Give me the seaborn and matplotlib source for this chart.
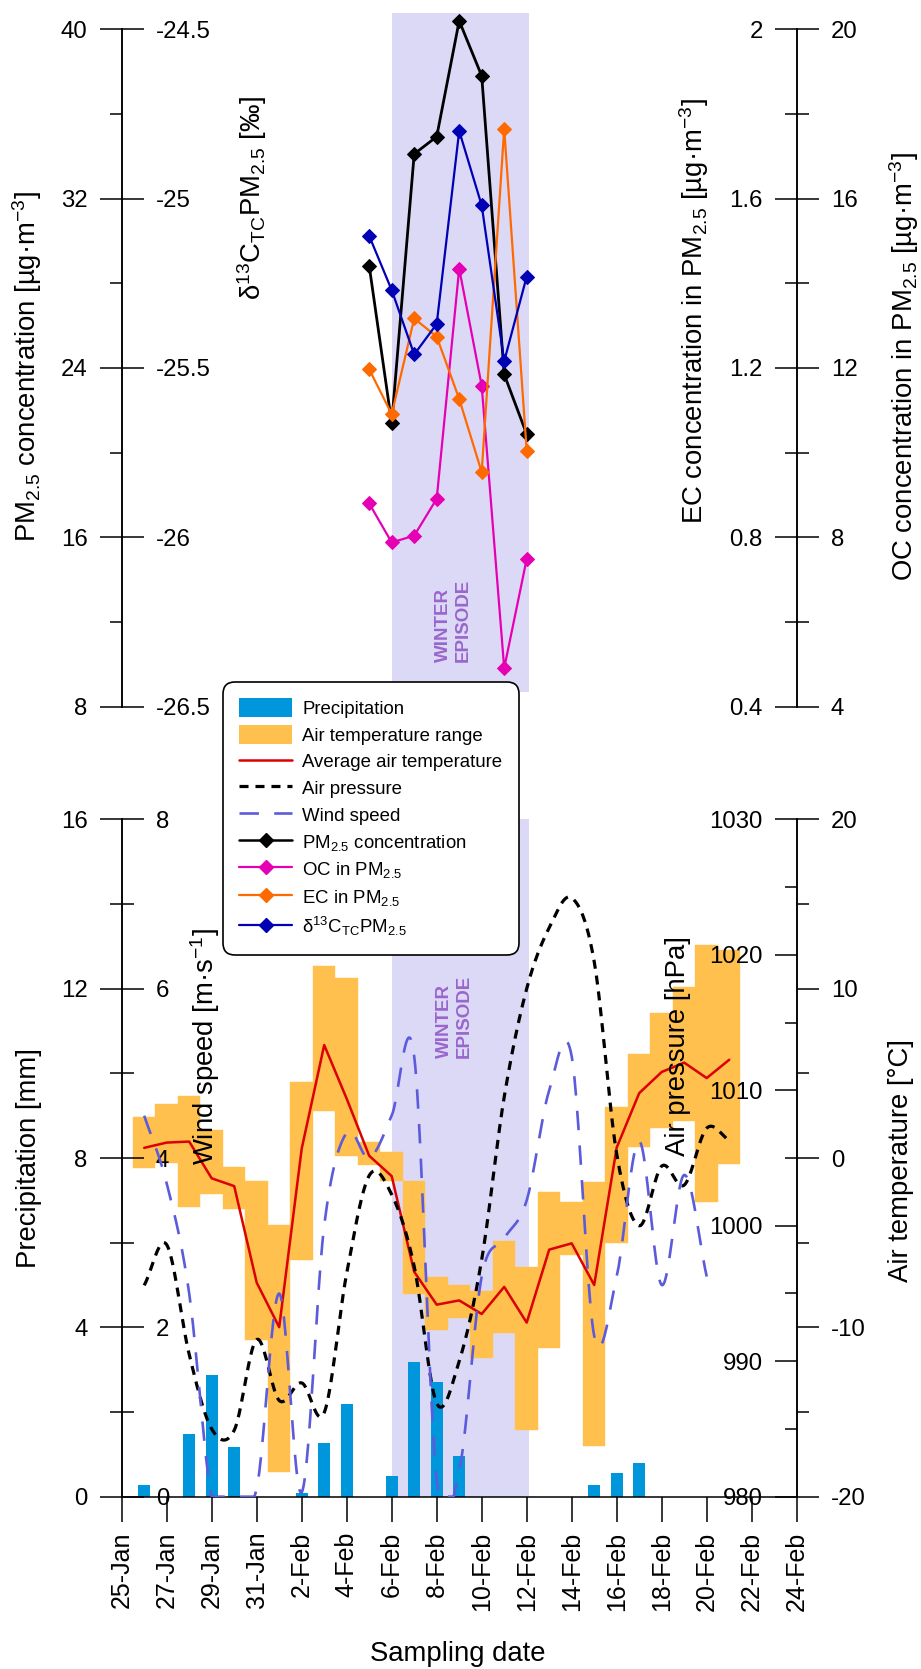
import numpy as np
import pandas as pd
import matplotlib
matplotlib.use('Agg')
import matplotlib.pyplot as plt
import matplotlib.dates as mdates
from matplotlib.patches import Patch
from matplotlib.lines import Line2D
import seaborn as sns

sns.set_theme(style='white')
plt.rcParams['font.family'] = ['Liberation Sans', 'DejaVu Sans']
plt.rcParams['mathtext.fontset'] = 'custom'
plt.rcParams['mathtext.rm'] = 'Liberation Sans'
plt.rcParams['mathtext.it'] = 'Liberation Sans:italic'
plt.rcParams['mathtext.bf'] = 'Liberation Sans:bold'
plt.rcParams['axes.unicode_minus'] = False
plt.rcParams['lines.scale_dashes'] = False
for k in ['axes.edgecolor', 'text.color', 'xtick.color', 'ytick.color', 'axes.labelcolor']:
    plt.rcParams[k] = 'black'

# ---------------- data ----------------
met_dates = pd.date_range('2019-01-26', '2019-02-21', freq='D')
precip = [0.28, 0, 1.48, 2.88, 1.18, 0, 0, 0.08, 1.28, 2.18, 0, 0.49, 3.18, 2.70,
          0.97, 0, 0, 0, 0, 0, 0.28, 0.57, 0.79, 0, 0, 0, 0]
t_max = [2.41, 3.19, 3.67, 1.67, -0.52, -1.35, -3.94, 4.5, 11.31, 10.61, 0.93, 0.34,
         -1.35, -7.04, -7.52, -7.88, -4.93, -6.41, -2.02, -2.58, -1.43, 3.03, 6.17,
         8.58, 10.1, 12.6, 12.3]
t_min = [-0.61, -0.3, -2.88, -2.13, -3.03, -10.73, -18.53, -6.05, 2.77, 0.13, -0.44,
         -1.35, -8.03, -10.14, -9.42, -11.83, -10.31, -16.04, -11.19, -5.72, -17.02,
         -5.04, 0.67, 1.75, 2.19, -2.58, -0.34]
t_avg = [0.60, 0.91, 0.97, -1.2, -1.66, -7.36, -9.99, 0.55, 6.67, 3.5, 0.13, -1.07,
         -6.72, -8.66, -8.41, -9.21, -7.61, -9.72, -5.41, -5.04, -7.5, 0.62, 3.83,
         5.08, 5.63, 4.72, 5.8]
pressure = [995.6, 998.6, 990.5, 985.0, 984.9, 991.6, 987.1, 988.4, 986.2, 996.5,
            1003.7, 1002.3, 997.0, 986.9, 990.0, 997.5, 1009.5, 1017.5, 1022.0,
            1024.2, 1019.5, 1005.3, 1000.0, 1004.4, 1003.0, 1007.2, 1006.3]
wind_dates = pd.date_range('2019-01-26', '2019-02-20', freq='D')
wind = [4.5, 3.7, 2.4, 0, 0, 0.1, 2.4, 0.05, 3.2, 4.3, 4.0, 4.5, 5.2, 0.2, 0.3,
        2.6, 3.05, 3.5, 4.8, 5.2, 1.9, 2.6, 4.2, 2.5, 3.8, 2.6]

top_dates = pd.date_range('2019-02-05', '2019-02-12', freq='D')
pm25 = [28.83, 21.39, 34.11, 34.93, 40.4, 37.8, 23.7, 20.87]
oc = [8.80, 7.88, 8.04, 8.91, 14.35, 11.58, 4.91, 7.49]
ec = [1.197, 1.091, 1.317, 1.274, 1.127, 0.954, 1.765, 1.004]
d13c = [-25.11, -25.27, -25.46, -25.37, -24.80, -25.02, -25.48, -25.23]

episode = (pd.Timestamp('2019-02-06'), pd.Timestamp('2019-02-12'))
x_range = (pd.Timestamp('2019-01-25'), pd.Timestamp('2019-02-24'))
x_ticks = pd.date_range('2019-01-25', '2019-02-24', freq='2D')

pm_ticks = [8, 16, 24, 32, 40]
d13c_ticks = [-26.5, -26, -25.5, -25, -24.5]
d13c_labels = ['-26.5', '-26', '-25.5', '-25', '-24.5']
ec_ticks = [0.4, 0.8, 1.2, 1.6, 2.0]
ec_labels = ['0.4', '0.8', '1.2', '1.6', '2']
oc_ticks = [4, 8, 12, 16, 20]
pr_ticks = [0, 4, 8, 12, 16]
wind_ticks = [0, 2, 4, 6, 8]
pres_ticks = [980, 990, 1000, 1010, 1020, 1030]
temp_ticks = [-20, -10, 0, 10, 20]

legend_labels = ['Precipitation', 'Air temperature range', 'Average air temperature',
                 'Air pressure', 'Wind speed', 'PM$_{2.5}$ concentration',
                 'OC in PM$_{2.5}$', 'EC in PM$_{2.5}$',
                 'δ$^{13}$C$_{\\mathrm{TC}}$PM$_{2.5}$']

# ---------------- colours ----------------
c_precip = '#0096dc'
c_trange = '#ffc04d'
c_tavg = '#dc0000'
c_wind = '#5b5bdb'
c_pm = 'black'
c_oc = '#e600b4'
c_ec = '#ff6a00'
c_d13 = '#0000b4'
c_shade = '#dcd9f7'
c_epi = '#9966cc'


def catmull(xv, yv, n=24):
    xv = np.asarray(xv, float)
    yv = np.asarray(yv, float)
    xp = np.r_[2 * xv[0] - xv[1], xv, 2 * xv[-1] - xv[-2]]
    yp = np.r_[2 * yv[0] - yv[1], yv, 2 * yv[-1] - yv[-2]]
    t = np.linspace(0, 1, n, endpoint=False)[:, None]

    def seg(p):
        p0, p1, p2, p3 = p[:-3], p[1:-2], p[2:-1], p[3:]
        return 0.5 * (2 * p1 + (p2 - p0) * t + (2 * p0 - 5 * p1 + 4 * p2 - p3) * t ** 2
                      + (3 * p1 - p0 - 3 * p2 + p3) * t ** 3)
    xs = seg(xp).T.ravel()
    ys = seg(yp).T.ravel()
    return np.r_[xs, xv[-1]], np.r_[ys, yv[-1]]


W, H = 921, 1669
fig = plt.figure(figsize=(W / 100, H / 100), dpi=100)


def fx(x):
    return x / W


def fy(y):
    return 1 - y / H


L, R = 121.7, 796.7
ax_pm = fig.add_axes([fx(L), fy(706.7), (R - L) / W, (706.7 - 29.3) / H])
ax_p = fig.add_axes([fx(L), fy(1496.7), (R - L) / W, (1496.7 - 819.3) / H])

MAJ, MIN, TW, LS, PAD = 16, 8.5, 1.1, 17.3, 8.5


def hide_spines(ax):
    for s in ax.spines.values():
        s.set_visible(False)


def setup_y(ax, side, pos, ticks, lim, labels=None, minor=None):
    hide_spines(ax)
    sp = ax.spines[side]
    sp.set_visible(True)
    sp.set_position(('axes', pos))
    sp.set_linewidth(1.1)
    if side == 'left':
        ax.yaxis.set_ticks_position('left')
    else:
        ax.yaxis.set_ticks_position('right')
    ax.set_ylim(*lim)
    ax.set_yticks(ticks)
    if labels is not None:
        ax.set_yticklabels(labels)
    if minor is not None:
        ax.set_yticks(minor, minor=True)
    ax.tick_params(axis='y', which='major', direction='out', length=MAJ, width=TW,
                   labelsize=LS, pad=PAD)
    ax.tick_params(axis='y', which='minor', direction='out', length=MIN, width=TW)
    ax.set_ylabel('')


# ---------------- top panel ----------------
ax_oc = ax_pm.twinx()
ax_ec = ax_pm.twinx()
ax_d = ax_pm.twinx()

ax_pm.axvspan(episode[0], episode[1] + pd.Timedelta(hours=2.4), ymin=0.022, ymax=1.024,
              color=c_shade, lw=0, zorder=0, clip_on=False)

sns.lineplot(x=top_dates, y=pm25, ax=ax_pm, color=c_pm, lw=2.0, marker='D', ms=7,
             markeredgecolor=c_pm, clip_on=False, zorder=3)
sns.lineplot(x=top_dates, y=oc, ax=ax_oc, color=c_oc, lw=1.6, marker='D', ms=7,
             markeredgecolor=c_oc, clip_on=False)
sns.lineplot(x=top_dates, y=ec, ax=ax_ec, color=c_ec, lw=1.6, marker='D', ms=7,
             markeredgecolor=c_ec, clip_on=False)
sns.lineplot(x=top_dates, y=d13c, ax=ax_d, color=c_d13, lw=1.6, marker='D', ms=7,
             markeredgecolor=c_d13, clip_on=False)

setup_y(ax_pm, 'left', 0, pm_ticks, (8, 40), minor=[12, 20, 28, 36])
setup_y(ax_d, 'right', 0, d13c_ticks, (-26.5, -24.5), labels=d13c_labels)
setup_y(ax_ec, 'left', 1, ec_ticks, (0.4, 2.0), labels=ec_labels, minor=[0.6, 1.0, 1.4, 1.8])
setup_y(ax_oc, 'right', 1, oc_ticks, (4, 20), minor=[6, 10, 14, 18])
for a in (ax_pm, ax_oc, ax_ec, ax_d):
    a.set_xlim(*x_range)
    a.set_xticks([])
    a.set_xlabel('')
ax_pm.patch.set_visible(False)

# ---------------- bottom panel ----------------
ax_t = ax_p.twinx()
ax_pr = ax_p.twinx()
ax_w = ax_p.twinx()

ax_p.axvspan(episode[0], episode[1] + pd.Timedelta(hours=2.4), color=c_shade, lw=0, zorder=0)
ax_p.bar(met_dates, precip, width=0.53, color=c_precip, lw=0, zorder=2)

ax_t.bar(met_dates, np.array(t_max) - np.array(t_min), bottom=t_min, width=1.0,
         color=c_trange, edgecolor=c_trange, lw=0.3, zorder=1)
sns.lineplot(x=met_dates, y=t_avg, ax=ax_t, color=c_tavg, lw=1.8, zorder=3)

px, py = catmull(mdates.date2num(met_dates), pressure)
ax_pr.plot(px, py, color='black', lw=2.3, dashes=(6.5, 5))

wx, wy = catmull(mdates.date2num(wind_dates), wind)
ax_w.plot(wx, np.clip(wy, 0, 8), color=c_wind, lw=1.9, dashes=(14, 11))

setup_y(ax_p, 'left', 0, pr_ticks, (0, 16), minor=[2, 6, 10, 14])
ax_p.spines['bottom'].set_visible(True)
ax_p.spines['bottom'].set_linewidth(1.1)
setup_y(ax_w, 'right', 0, wind_ticks, (0, 8), minor=[1, 3, 5, 7])
setup_y(ax_pr, 'left', 1, pres_ticks, (980, 1030), minor=[985, 995, 1005, 1015, 1025])
setup_y(ax_t, 'right', 1, temp_ticks, (-20, 20), minor=[-15, -5, 5, 15])

for a in (ax_p, ax_t, ax_pr, ax_w):
    a.set_xlim(*x_range)
ax_p.set_xticks(x_ticks)
ax_p.xaxis.set_major_formatter(mdates.DateFormatter('%-d-%b'))
ax_p.tick_params(axis='x', which='major', direction='out', length=18, width=TW,
                 labelsize=18, pad=7, rotation=90, bottom=True)
ax_p.set_xlabel('')
ax_p.patch.set_visible(False)

# ---------------- texts ----------------
lab = dict(rotation=90, ha='center', va='center', fontsize=19.8)
fig.text(fx(27), fy(367), 'PM$_{2.5}$ concentration [µg·m$^{-3}$]', **lab)
fig.text(fx(252), fy(198), 'δ$^{13}$C$_{\\mathrm{TC}}$PM$_{2.5}$ [‰]', **lab)
fig.text(fx(694), fy(311), 'EC concentration in PM$_{2.5}$ [µg·m$^{-3}$]', **lab)
fig.text(fx(904), fy(367), 'OC concentration in PM$_{2.5}$ [µg·m$^{-3}$]', **lab)
fig.text(fx(29), fy(1158), 'Precipitation [mm]', **lab)
fig.text(fx(205), fy(1046), 'Wind speed [m·s$^{-1}$]', **lab)
fig.text(fx(678), fy(1046), 'Air pressure [hPa]', **lab)
fig.text(fx(901), fy(1160), 'Air temperature [°C]', **lab)
fig.text(fx(458), fy(1661), 'Sampling date', ha='center', va='baseline', fontsize=19.8)

epi = dict(rotation=90, ha='center', va='bottom', multialignment='left', fontsize=13.5,
           fontweight='bold', color=c_epi)
fig.text(fx(453.3), fy(662), 'WINTER\nEPISODE', **epi)
fig.text(fx(454), fy(1058), 'WINTER\nEPISODE', **epi)

# ---------------- legend ----------------
handles = [
    Patch(facecolor=c_precip, edgecolor='none'),
    Patch(facecolor=c_trange, edgecolor='none'),
    Line2D([], [], color=c_tavg, lw=1.8),
    Line2D([], [], color='black', lw=2.3, dashes=(6.5, 5)),
    Line2D([], [], color=c_wind, lw=1.9, dashes=(14, 11)),
    Line2D([], [], color=c_pm, lw=1.8, marker='D', ms=7),
    Line2D([], [], color=c_oc, lw=1.6, marker='D', ms=7),
    Line2D([], [], color=c_ec, lw=1.6, marker='D', ms=7),
    Line2D([], [], color=c_d13, lw=1.6, marker='D', ms=7),
]
leg = fig.legend(handles, legend_labels, loc='upper left',
                 bbox_to_anchor=(fx(222.7), fy(681.7)), fontsize=13.4, frameon=True,
                 fancybox=True, framealpha=1, edgecolor='black', handlelength=2.8,
                 handleheight=1.15, labelspacing=0.385, handletextpad=0.58,
                 borderpad=0.9, borderaxespad=0)
leg.get_frame().set_linewidth(1.2)
leg.get_frame().set_boxstyle('round', pad=0, rounding_size=0.65)
leg.set_zorder(10)

fig.savefig('out.png', dpi=100)
